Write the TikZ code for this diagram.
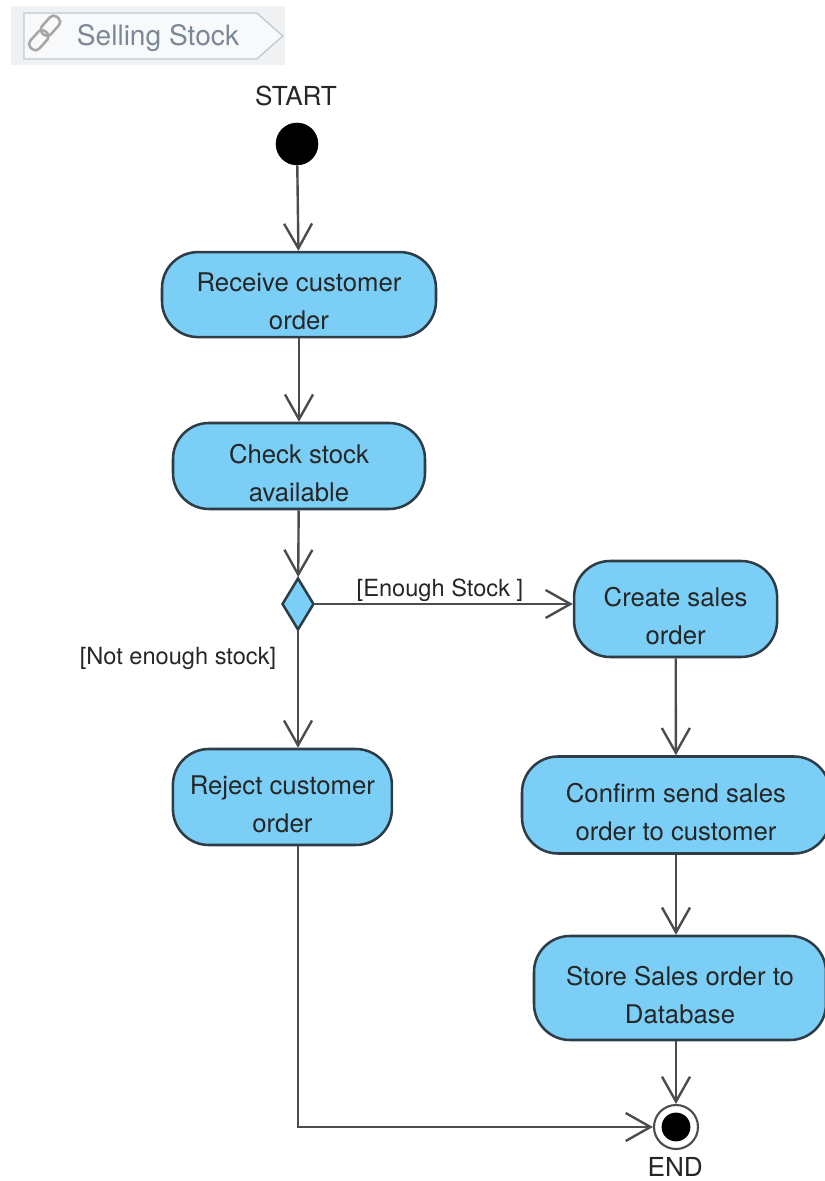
\documentclass[tikz,border=0pt]{standalone}
\usepackage{fontspec}
\setmainfont{TeX Gyre Heros}
\usetikzlibrary{arrows.meta}
\usetikzlibrary{shapes.geometric}

\definecolor{actblue}{HTML}{7BCFF6}
\definecolor{actline}{HTML}{2E3C46}
\definecolor{txtgray}{HTML}{262626}
\definecolor{tabgray}{HTML}{F0F1F2}
\definecolor{tabfill}{HTML}{F8F9FA}
\definecolor{tabline}{HTML}{C3CAD2}
\definecolor{tabtext}{HTML}{7C8896}

\newcommand{\topgap}{\rule{0pt}{23.1pt}}

\begin{document}
\begin{tikzpicture}[
		main/.style={shape=rectangle, draw=actline, fill=actblue, line width=1.8pt, rounded corners=0.9cm, align=center, text=txtgray, font=\fontsize{18.3}{27}\selectfont, inner sep=0pt},
		lbl/.style={text=txtgray, font=\fontsize{16.8}{20}\selectfont, inner sep=0pt},
		mark lbl/.style={text=txtgray, font=\fontsize{18.6}{20}\selectfont, inner sep=0pt},
		flow/.style={line width=1.7pt, draw=black!70, ->, >={Straight Barb[length=0.62cm,width=0.7cm]}},
		link/.style={shape=rectangle, draw=black!35, line width=1.8pt, rounded corners=0.12cm, minimum width=0.55cm, minimum height=0.3cm, rotate=48, inner sep=0pt},
]

\useasboundingbox (0,0) rectangle (20.6,29.525);

% header tab
\node[shape=rectangle, fill=tabgray, minimum width=6.85cm, minimum height=1.475cm, inner sep=0pt] (tabbg) at (3.7,28.64) {};
\draw[tabline, line width=1pt, fill=tabfill] (0.6,28.05) -- (0.6,29.2) -- (6.42,29.2) -- (7.07,28.625) -- (6.42,28.05) -- cycle;
\node[link] (linka) at (1.26,28.88) {};
\node[link] (linkb) at (0.97,28.52) {};
\node[text=tabtext, font=\fontsize{20}{24}\selectfont, inner sep=0pt] (tabtitle) at (3.95,28.58) {Selling Stock};

% start and end
\node[shape=circle, fill=black, draw=black, minimum size=1.05cm, inner sep=0pt] (start) at (7.425,25.925) {};
\node[mark lbl] (startlbl) at (7.4,27.13) {START};
\node[shape=circle, draw=black!70, fill=white, line width=1.5pt, minimum size=1.1cm, inner sep=0pt] (endstate) at (16.9,1.35) {};
\node[shape=circle, fill=black, minimum size=0.72cm, inner sep=0pt] (enddot) at (16.9,1.35) {};
\node[mark lbl] (endlbl) at (16.88,0.34) {END};

% actions
\node[main, minimum width=6.85cm, minimum height=2.125cm] (receive) at (7.475,22.16) {\topgap Receive customer\\order};
\node[main, minimum width=6.3cm, minimum height=2.15cm] (check) at (7.475,17.875) {\topgap Check stock\\available};
\node[shape=diamond, draw=actline, fill=actblue, line width=1.8pt, minimum width=0.8cm, minimum height=1.3cm, inner sep=0pt] (dec) at (7.45,14.425) {};
\node[main, minimum width=5.075cm, minimum height=2.4cm] (create) at (16.89,14.3) {\topgap Create sales\\order};
\node[main, minimum width=5.475cm, minimum height=2.4cm] (reject) at (7.06,9.6) {\topgap Reject customer\\order};
\node[main, minimum width=7.7cm, minimum height=2.425cm] (confirm) at (16.9,9.4) {\topgap Confirm send sales\\order to customer};
\node[main, minimum width=7.3cm, minimum height=2.6cm] (store) at (17.0,4.825) {\topgap Store Sales order to\\Database};

% guards
\node[lbl] (enough) at (11.0,14.77) {[Enough Stock ]};
\node[lbl] (notenough) at (4.45,13.07) {[Not enough stock]};

\draw [flow] (start) -- (receive);
\draw [flow] (receive) -- (check);
\draw [flow] (check) -- (dec);
\draw [flow] (dec) -- (dec -| create.west);
\draw [flow] (dec) -- (dec |- reject.north);
\draw [flow] (create) -- (confirm);
\draw [flow] (confirm) -- (confirm |- store.north);
\draw [flow] (store.south -| endstate) -- (endstate);
\draw [flow] (reject.south -| dec) |- (endstate);

\end{tikzpicture}
\end{document}
